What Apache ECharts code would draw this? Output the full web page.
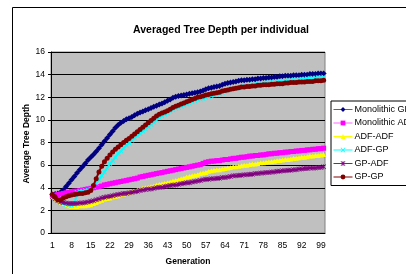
<!DOCTYPE html>
<html>
<head>
<meta charset="utf-8">
<script src="https://cdn.jsdelivr.net/npm/echarts@6/dist/echarts.min.js"></script>
<style>
  html, body { margin: 0; padding: 0; background: #fff; }
  #chart { width: 406px; height: 274px; }
</style>
</head>
<body>
<div id="chart"></div>
<script>
// generations 1..100
const generations = [];
for (let g = 1; g <= 100; g++) generations.push(String(g));

const monolithicGP = [
  3.4, 3.45, 3.5, 3.6, 3.8, 4.1, 4.4, 4.7, 5.0, 5.3,
  5.6, 5.85, 6.15, 6.45, 6.7, 6.95, 7.2, 7.5, 7.8, 8.1,
  8.4, 8.7, 9.0, 9.3, 9.55, 9.75, 9.9, 10.05, 10.15, 10.25,
  10.4, 10.55, 10.65, 10.75, 10.85, 10.95, 11.05, 11.15, 11.25, 11.35,
  11.45, 11.55, 11.7, 11.8, 11.95, 12.05, 12.1, 12.15, 12.2, 12.25,
  12.3, 12.35, 12.4, 12.45, 12.5, 12.6, 12.7, 12.8, 12.85, 12.9,
  12.95, 13.0, 13.1, 13.2, 13.25, 13.3, 13.35, 13.4, 13.45, 13.5,
  13.5, 13.55, 13.55, 13.6, 13.6, 13.65, 13.65, 13.7, 13.7, 13.75,
  13.75, 13.8, 13.8, 13.85, 13.85, 13.9, 13.9, 13.9, 13.95, 13.95,
  13.95, 14.0, 14.0, 14.0, 14.05, 14.05, 14.05, 14.1, 14.1, 14.1
];
const monolithicADF = [
  3.3, 3.35, 3.4, 3.45, 3.5, 3.55, 3.6, 3.65, 3.7, 3.7,
  3.75, 3.8, 3.85, 3.9, 3.95, 4.0, 4.05, 4.1, 4.15, 4.25,
  4.3, 4.35, 4.4, 4.45, 4.5, 4.55, 4.6, 4.65, 4.7, 4.75,
  4.8, 4.85, 4.95, 5.0, 5.05, 5.1, 5.15, 5.2, 5.25, 5.3,
  5.35, 5.4, 5.45, 5.5, 5.55, 5.6, 5.65, 5.7, 5.75, 5.8,
  5.85, 5.9, 5.95, 6.0, 6.05, 6.15, 6.25, 6.3, 6.35, 6.35,
  6.4, 6.4, 6.45, 6.5, 6.5, 6.55, 6.6, 6.6, 6.65, 6.7,
  6.7, 6.75, 6.8, 6.8, 6.85, 6.85, 6.9, 6.9, 6.95, 7.0,
  7.0, 7.05, 7.05, 7.1, 7.1, 7.15, 7.15, 7.2, 7.2, 7.25,
  7.25, 7.3, 7.3, 7.35, 7.35, 7.4, 7.4, 7.45, 7.45, 7.5
];
const adfADF = [
  3.2, 3.0, 2.85, 2.7, 2.6, 2.5, 2.4, 2.35, 2.35, 2.35,
  2.4, 2.4, 2.4, 2.45, 2.5, 2.6, 2.7, 2.8, 2.9, 3.0,
  3.05, 3.1, 3.2, 3.25, 3.3, 3.4, 3.45, 3.5, 3.6, 3.65,
  3.7, 3.8, 3.85, 3.95, 4.0, 4.05, 4.1, 4.15, 4.25, 4.3,
  4.35, 4.4, 4.45, 4.5, 4.6, 4.65, 4.7, 4.8, 4.85, 4.95,
  5.0, 5.05, 5.1, 5.15, 5.25, 5.3, 5.35, 5.45, 5.5, 5.55,
  5.6, 5.6, 5.65, 5.7, 5.75, 5.8, 5.85, 5.85, 5.9, 5.95,
  6.0, 6.0, 6.05, 6.1, 6.1, 6.15, 6.2, 6.2, 6.25, 6.3,
  6.3, 6.35, 6.4, 6.4, 6.45, 6.5, 6.5, 6.55, 6.6, 6.6,
  6.65, 6.7, 6.7, 6.75, 6.8, 6.8, 6.85, 6.85, 6.9, 6.95
];
const adfGP = [
  3.3, 3.1, 2.9, 2.75, 2.6, 2.5, 2.45, 2.45, 2.5, 3.6,
  3.7, 3.7, 3.75, 3.8, 3.9, 4.1, 4.4, 4.7, 5.05, 5.4,
  5.75, 6.1, 6.4, 6.7, 7.0, 7.25, 7.5, 7.75, 7.95, 8.2,
  8.4, 8.6, 8.8, 9.0, 9.2, 9.4, 9.6, 9.8, 10.0, 10.2,
  10.35, 10.5, 10.6, 10.75, 10.9, 11.0, 11.1, 11.2, 11.3, 11.4,
  11.5, 11.6, 11.7, 11.8, 11.85, 11.9, 12.0, 12.05, 12.1, 12.2,
  12.25, 12.3, 12.4, 12.5, 12.6, 12.7, 12.75, 12.8, 12.85, 12.9,
  12.95, 13.0, 13.05, 13.1, 13.1, 13.15, 13.2, 13.2, 13.25, 13.3,
  13.3, 13.35, 13.35, 13.4, 13.4, 13.45, 13.45, 13.5, 13.5, 13.55,
  13.55, 13.6, 13.6, 13.65, 13.65, 13.7, 13.7, 13.75, 13.75, 13.8
];
const gpADF = [
  3.2, 3.0, 2.85, 2.75, 2.7, 2.65, 2.6, 2.6, 2.6, 2.6,
  2.65, 2.65, 2.7, 2.75, 2.8, 2.85, 2.95, 3.0, 3.1, 3.15,
  3.2, 3.25, 3.3, 3.35, 3.4, 3.45, 3.5, 3.5, 3.55, 3.6,
  3.65, 3.7, 3.75, 3.8, 3.85, 3.9, 3.9, 3.95, 4.0, 4.05,
  4.05, 4.1, 4.15, 4.2, 4.25, 4.25, 4.3, 4.35, 4.4, 4.45,
  4.45, 4.5, 4.55, 4.6, 4.65, 4.7, 4.75, 4.75, 4.8, 4.8,
  4.85, 4.85, 4.9, 4.9, 4.95, 5.0, 5.05, 5.05, 5.1, 5.1,
  5.15, 5.15, 5.2, 5.2, 5.25, 5.25, 5.3, 5.3, 5.35, 5.35,
  5.4, 5.4, 5.45, 5.45, 5.5, 5.5, 5.55, 5.55, 5.6, 5.6,
  5.65, 5.65, 5.7, 5.7, 5.75, 5.75, 5.75, 5.8, 5.8, 5.85
];
const gpGP = [
  3.4, 3.2, 2.95, 2.95, 3.1, 3.2, 3.3, 3.35, 3.4, 3.45,
  3.5, 3.5, 3.55, 3.6, 3.75, 4.2, 4.8, 5.4, 5.9, 6.3,
  6.6, 6.9, 7.15, 7.4, 7.6, 7.8, 8.0, 8.2, 8.35, 8.55,
  8.75, 8.95, 9.15, 9.35, 9.55, 9.75, 9.95, 10.15, 10.35, 10.5,
  10.6, 10.7, 10.8, 10.95, 11.1, 11.2, 11.3, 11.4, 11.5, 11.6,
  11.7, 11.8, 11.9, 12.0, 12.05, 12.1, 12.2, 12.25, 12.3, 12.35,
  12.4, 12.45, 12.55, 12.6, 12.65, 12.7, 12.75, 12.8, 12.85, 12.9,
  12.9, 12.95, 12.95, 13.0, 13.0, 13.05, 13.05, 13.1, 13.1, 13.1,
  13.15, 13.15, 13.2, 13.2, 13.2, 13.25, 13.25, 13.3, 13.3, 13.3,
  13.35, 13.35, 13.35, 13.4, 13.4, 13.4, 13.45, 13.45, 13.45, 13.5
];

const seriesNames = ['Monolithic GP', 'Monolithic ADF', 'ADF-ADF', 'ADF-GP', 'GP-ADF', 'GP-GP'];
const yTicks = [0, 2, 4, 6, 8, 10, 12, 14, 16];

const crossPath = 'path://M0,1L1,0L5,4L9,0L10,1L6,5L10,9L9,10L5,6L1,10L0,9L4,5Z';
const starPath = 'path://M0,1L1,0L5,4L9,0L10,1L6,5L10,9L9,10L5,6L1,10L0,9L4,5Z M4.3,0H5.7V10H4.3Z';

const looks = [
  { data: monolithicGP, color: '#000080', symbol: 'diamond', size: 6, legendLine: '#E03030' },
  { data: monolithicADF, color: '#FF00FF', symbol: 'rect', size: 5, legendLine: '#FF66FF' },
  { data: adfADF, color: '#FFFF00', symbol: 'triangle', size: 5, legendLine: '#FFFF00' },
  { data: adfGP, color: '#00FFFF', symbol: crossPath, size: 5, legendLine: '#00FFFF' },
  { data: gpADF, color: '#800080', symbol: starPath, size: 5, legendLine: '#3030FF' },
  { data: gpGP, color: '#800000', symbol: 'circle', size: 5, legendLine: '#800000' }
];

const font = 'Liberation Sans';
const chart = echarts.init(document.getElementById('chart'), null, { renderer: 'canvas' });

chart.setOption({
  backgroundColor: '#fff',
  animation: false,
  textStyle: { fontFamily: font },
  title: {
    text: 'Averaged Tree Depth per individual',
    left: 216,
    top: 20,
    textAlign: 'center',
    textStyle: { fontFamily: font, fontSize: 10.5, fontWeight: 'bold', color: '#000' }
  },
  graphic: [
    {
      type: 'rect',
      shape: { x: 12.5, y: 7.5, width: 500, height: 400 },
      style: { fill: 'none', stroke: '#000', lineWidth: 1 },
      z: -10
    },
    {
      type: 'text',
      left: 22,
      top: 104,
      rotation: Math.PI / 2,
      style: {
        text: 'Average Tree Depth',
        fontFamily: font,
        fontSize: 8.5,
        fontWeight: 'bold',
        fill: '#000'
      }
    }
  ],
  legend: {
    orient: 'vertical',
    left: 331,
    top: 101,
    width: 200,
    padding: [4, 40, 4, 2],
    itemGap: 4.5,
    itemWidth: 19,
    itemHeight: 6,
    backgroundColor: '#fff',
    borderColor: '#000',
    borderWidth: 1,
    borderRadius: 0,
    textStyle: { fontFamily: font, fontSize: 9, color: '#000', padding: [0, 0, 0, -3] },
    data: seriesNames.map((name, i) => ({
      name: name,
      lineStyle: { color: looks[i].legendLine, width: 1 },
      itemStyle: { color: looks[i].color }
    }))
  },
  grid: {
    left: 51,
    top: 52,
    right: 81,
    bottom: 41,
    show: true,
    backgroundColor: '#C0C0C0',
    borderColor: '#808080',
    borderWidth: 1
  },
  xAxis: {
    type: 'category',
    data: generations,
    boundaryGap: true,
    name: 'Generation',
    nameLocation: 'middle',
    nameGap: 24,
    nameTextStyle: { fontFamily: font, fontSize: 8.5, fontWeight: 'bold', color: '#000' },
    axisLine: { lineStyle: { color: '#000', width: 1 } },
    axisTick: { interval: 0, length: 3, lineStyle: { color: '#000' } },
    axisLabel: { interval: 6, fontFamily: font, fontSize: 8.5, color: '#000', margin: 8 },
    splitLine: { show: false }
  },
  yAxis: {
    type: 'value',
    min: yTicks[0],
    max: yTicks[yTicks.length - 1],
    interval: 2,
    axisLine: { show: true, lineStyle: { color: '#000', width: 1 } },
    axisTick: { show: true, length: 3, lineStyle: { color: '#000' } },
    axisLabel: { fontFamily: font, fontSize: 8.5, color: '#000', margin: 6 },
    splitLine: { lineStyle: { color: '#000', width: 1 } }
  },
  series: looks.map((s, i) => ({
    name: seriesNames[i],
    type: 'line',
    data: s.data,
    symbol: s.symbol,
    symbolSize: s.size,
    showAllSymbol: true,
    color: s.color,
    lineStyle: { color: s.color, width: 2 },
    itemStyle: { color: s.color },
    z: 2 + i
  }))
});
</script>
</body>
</html>
